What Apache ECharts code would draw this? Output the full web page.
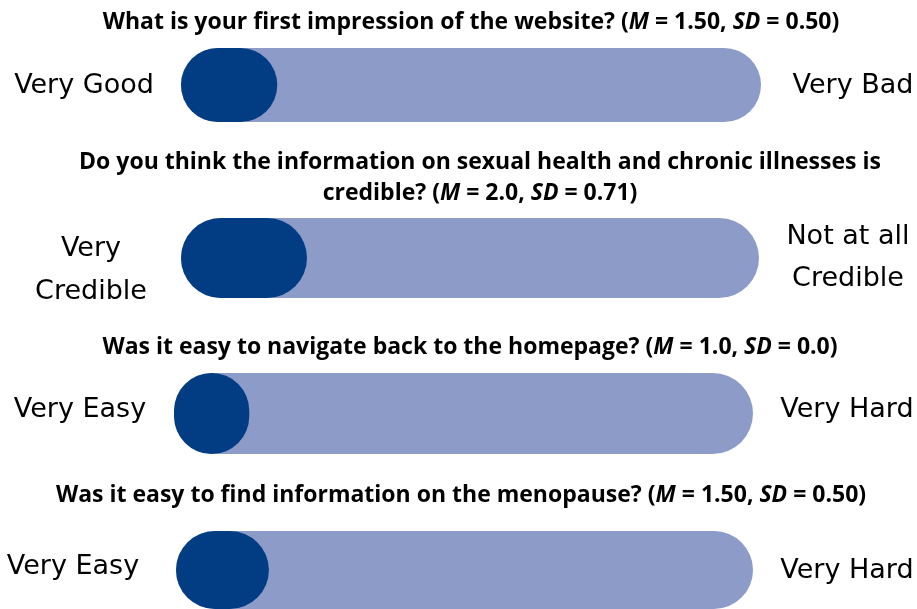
<!DOCTYPE html>
<html>
<head>
<meta charset="utf-8">
<script src="https://cdn.jsdelivr.net/npm/echarts@6/dist/echarts.min.js"></script>
<style>
  html, body { margin: 0; padding: 0; background: #fff; }
  #main { width: 917px; height: 609px; }
</style>
</head>
<body>
<div id="main"></div>
<script>
// survey items
var questions = [
    'What is your first impression of the website?',
    'Do you think the information on sexual health and chronic illnesses is\ncredible?',
    'Was it easy to navigate back to the homepage?',
    'Was it easy to find information on the menopause?'
];
var meanText = ['1.50', '2.0', '1.0', '1.50'];
var sdText = ['0.50', '0.71', '0.0', '0.50'];
var leftLabels = ['Very Good', 'Very\nCredible', 'Very Easy', 'Very Easy'];
var rightLabels = ['Very Bad', 'Not at all\nCredible', 'Very Hard', 'Very Hard'];
// filled part of each slider, % of the track
var fillValues = [16.6, 21.8, 13.0, 16.1];
var trackMax = 100;

// layout per row (pixels)
var rows = [
    {left: 181, right: 761, top: 48, h: 74, tx: 471, ty: [22], lx: 84, ly: 86, rx: 853, ry: 86},
    {left: 181, right: 759, top: 218, h: 80, tx: 480, ty: [162, 193], lx: 91, ly: 270, rx: 848, ry: 258},
    {left: 174, right: 753, top: 373, h: 81, tx: 470, ty: [347], lx: 80, ly: 410, rx: 847, ry: 410},
    {left: 176, right: 753, top: 531, h: 80, tx: 461, ty: [495], lx: 73, ly: 567, rx: 847, ry: 571}
];

var darkBlue = '#023d84';
var lightBlue = '#8c9bc8';
var titleFont = {fontFamily: 'Open Sans', fontWeight: 'bold', fontSize: 23, fill: '#000'};

var myChart = echarts.init(document.getElementById('main'));

var grids = [], xAxes = [], yAxes = [], series = [], graphics = [];

rows.forEach(function (r, i) {
    grids.push({left: r.left, top: r.top, width: r.right - r.left, height: r.h});
    xAxes.push({type: 'value', gridIndex: i, min: 0, max: trackMax, show: false});
    yAxes.push({type: 'category', gridIndex: i, data: ['q' + (i + 1)], show: false});
    series.push({
        type: 'bar', xAxisIndex: i, yAxisIndex: i,
        barWidth: r.h, barGap: '-100%', silent: true,
        itemStyle: {color: lightBlue, borderRadius: r.h / 2},
        data: [trackMax], z: 1
    });
    series.push({
        type: 'bar', xAxisIndex: i, yAxisIndex: i,
        barWidth: r.h, barGap: '-100%', silent: true,
        itemStyle: {color: darkBlue, borderRadius: r.h / 2},
        data: [fillValues[i]], z: 2
    });

    var q = questions[i].split('\n');
    q.forEach(function (line, k) {
        var txt = '{b|' + line + '}';
        if (k === q.length - 1) {
            txt = '{b|' + line + ' (}{i|M}{b| = ' + meanText[i] + ', }{i|SD}{b| = ' + sdText[i] + ')}';
        }
        graphics.push({
            type: 'text', x: r.tx, y: r.ty[k],
            style: {
                text: txt, align: 'center', verticalAlign: 'middle',
                rich: {
                    b: titleFont,
                    i: echarts.util.extend({fontStyle: 'italic'}, titleFont)
                }
            }
        });
    });
    graphics.push({
        type: 'text', x: r.lx, y: r.ly,
        style: {
            text: leftLabels[i], fontFamily: 'DejaVu Sans', fontSize: 27, lineHeight: 43,
            fill: '#000', align: 'center', verticalAlign: 'middle'
        }
    });
    graphics.push({
        type: 'text', x: r.rx, y: r.ry,
        style: {
            text: rightLabels[i], fontFamily: 'DejaVu Sans', fontSize: 27, lineHeight: 42,
            fill: '#000', align: 'center', verticalAlign: 'middle'
        }
    });
});

var option = {
    backgroundColor: '#fff',
    animation: false,
    grid: grids,
    xAxis: xAxes,
    yAxis: yAxes,
    series: series,
    graphic: graphics
};

myChart.setOption(option);
</script>
</body>
</html>
